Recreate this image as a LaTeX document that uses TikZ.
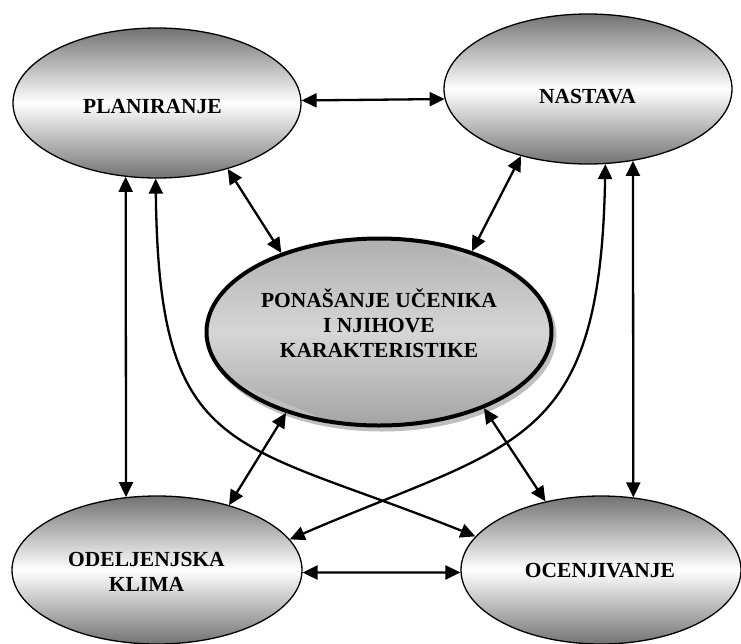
\documentclass[tikz,border=0pt]{standalone}
\usepackage{fontspec}
\setmainfont{Liberation Serif}
\usetikzlibrary{arrows.meta,shapes.geometric}
\begin{document}
\begin{tikzpicture}[x=1pt,y=-1pt,
  bub/.style={ellipse,draw=black,line width=1.3pt,inner sep=0pt,
    top color=black!55,bottom color=black!55,middle color=white},
  core/.style={ellipse,draw=black,line width=4pt,inner sep=0pt,minimum width=345pt,minimum height=187pt},
  lbl/.style={font=\fontsize{21.5}{25}\selectfont\bfseries,align=center,inner sep=0pt},
  link/.style={line width=2.3pt,{Triangle[length=15pt,width=14pt]}-{Triangle[length=15pt,width=14pt]}}
]
\useasboundingbox (0,0) rectangle (741,643);
\node[bub,minimum width=288pt,minimum height=150pt] (pl) at (157,103) {};
\node[bub,minimum width=288pt,minimum height=150pt] (na) at (588,89) {};
\node[bub,minimum width=290pt,minimum height=148pt] (od) at (157,570) {};
\node[bub,minimum width=280pt,minimum height=148pt] (oc) at (601,570) {};

% centre ellipse: shadow, diagonal shading, thick border
\coordinate (cc) at (379,332);
\fill[black!25] ([shift={(3,4)}]cc) ellipse (174.5 and 95.5);
\begin{scope}
  \clip (cc) ellipse (172.5 and 93.5);
  \shade[rotate around={-23:(cc)},top color=black!47,bottom color=black!56,middle color=black!16]
    ([shift={(-240,-102)}]cc) rectangle ([shift={(240,102)}]cc);
\end{scope}
\node[core] (ce) at (cc) {};

\node[lbl,anchor=base] (pl-t) at (152.5,113) {PLANIRANJE};
\node[lbl,anchor=base] (na-t) at (587.5,103) {NASTAVA};
\node[lbl,anchor=base] (oc-t) at (600,577) {OCENJIVANJE};
\node[lbl] (od-t) at (146.5,572) {ODELJENJSKA\\KLIMA};
\node[lbl] (ce-t) at (379,323) {PONAŠANJE UČENIKA\\I NJIHOVE\\KARAKTERISTIKE};

\draw[link] (pl.1.2) -- (na.184.4);
\draw[link] (od.-1.2) -- (oc.181.2);
\draw[link] (pl.-113.6) -- (od.113.9);
\draw[link] (na.-58.4) -- (oc.66.8);
\draw[link] (pl.-43.7) -- (ce.141.1);
\draw[link] (na.-135.4) -- (ce.41.8);
\draw[link] (ce.-139) -- (od.42);
\draw[link] (ce.-36.8) -- (oc.129.7);
\draw[link] (pl.-91.5) .. controls +(3,282) and +(-244,-98) .. (oc.165.9);
\draw[link] (na.-77.1) .. controls +(-5,285) and +(227,-98) .. (od.13.2);
\end{tikzpicture}
\end{document}
